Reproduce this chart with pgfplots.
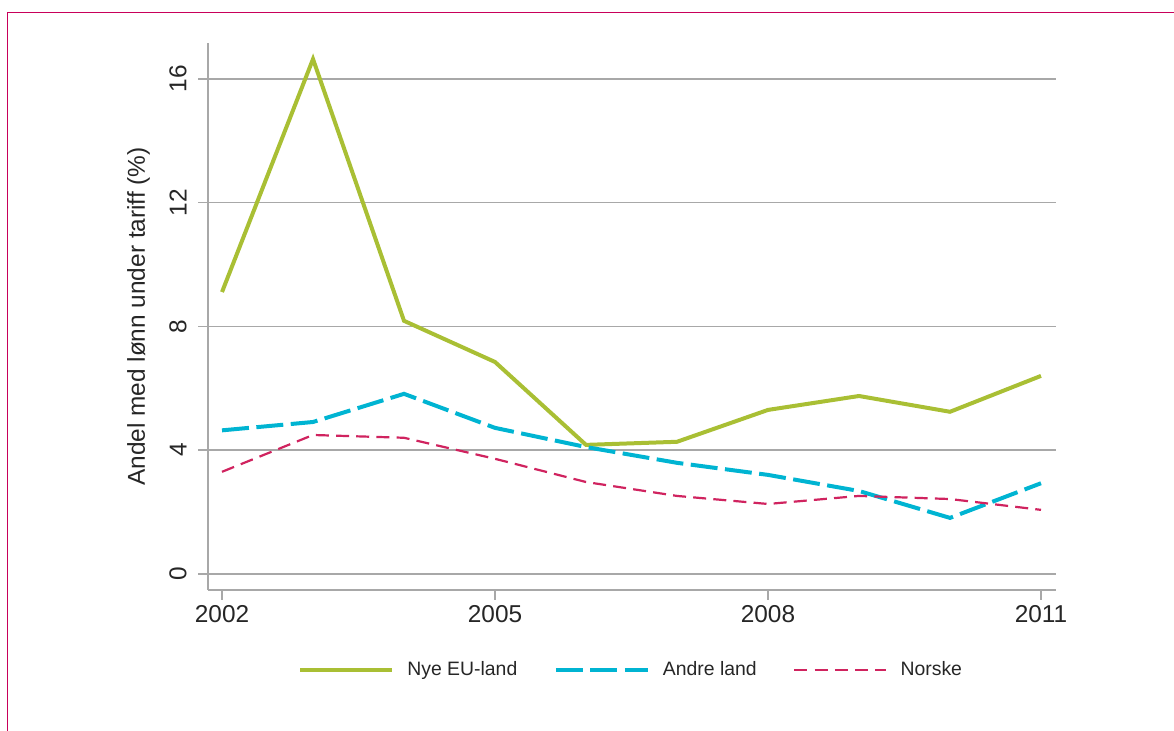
\documentclass[border=0pt]{standalone}
\usepackage{fontspec}
\setmainfont{Liberation Sans}
\usepackage{pgfplots}
\pgfplotsset{compat=1.18}

\definecolor{nyeeu}{RGB}{169,191,52}
\definecolor{andre}{RGB}{0,180,210}
\definecolor{norske}{RGB}{208,35,95}
\definecolor{frame}{RGB}{200,0,90}
\definecolor{gridgray}{RGB}{168,168,168}

\begin{document}
\begin{tikzpicture}
\useasboundingbox (0,0) rectangle (587pt,365.5pt);
\draw[frame, line width=0.6pt] (3.75pt,-2pt) -- (3.75pt,359.35pt) -- (590pt,359.35pt);
\begin{axis}[
    at={(104pt,70.5pt)}, anchor=south west,
    scale only axis,
    width=424pt, height=273.5pt,
    xmin=2001.846, xmax=2011.165,
    ymin=-0.52, ymax=17.16,
    axis lines=left,
    axis line style={-, gridgray, line width=0.75pt},
    xtick={2002,2005,2008,2011},
    ytick={0,4,8,12,16},
    tick align=outside,
    major tick length=5pt,
    tick style={gridgray, line width=0.75pt},
    ymajorgrids,
    major grid style={gridgray, line width=0.75pt},
    /pgf/number format/assume math mode=true,
    /pgf/number format/1000 sep={},
    ticklabel style={font=\fontsize{12.2}{14}\selectfont, text=black!85},
    xticklabel style={inner sep=2.5pt},
    yticklabel style={rotate=90, anchor=south, inner sep=5.5pt},
    ylabel={Andel med lønn under tariff (\%)},
    ylabel style={at={(axis description cs:-0.0818,0.5)}, anchor=center,
        font=\fontsize{12.2}{14}\selectfont, text=black!85},
    legend columns=3,
    legend style={at={(axis description cs:0.1061,-0.1463)}, anchor=west,
        draw=none, fill=none, inner sep=0pt,
        font=\fontsize{9.7}{11}\selectfont, text=black!85,
        nodes={inner sep=0pt},
        /tikz/every odd column/.append style={column sep=6.5pt},
        /tikz/every even column/.append style={column sep=18.3pt}},
    legend image code/.code={\draw[#1] (0pt,0pt) -- (46pt,0pt);},
]
\addplot[nyeeu, line width=2pt] coordinates {
    (2002,9.11) (2003,16.64) (2004,8.18) (2005,6.85) (2006,4.17)
    (2007,4.27) (2008,5.30) (2009,5.75) (2010,5.24) (2011,6.40)};
\addlegendentry{Nye EU-land}
\addplot[andre, line width=2pt, dash pattern=on 13.5pt off 3.75pt] coordinates {
    (2002,4.64) (2003,4.91) (2004,5.82) (2005,4.72) (2006,4.10)
    (2007,3.59) (2008,3.20) (2009,2.68) (2010,1.81) (2011,2.93)};
\addlegendentry{Andre land}
\addplot[norske, line width=1.1pt, dash pattern=on 6.5pt off 3.6pt] coordinates {
    (2002,3.30) (2003,4.49) (2004,4.40) (2005,3.72) (2006,2.97)
    (2007,2.52) (2008,2.26) (2009,2.52) (2010,2.42) (2011,2.07)};
\addlegendentry{Norske}
\end{axis}
\end{tikzpicture}
\end{document}
